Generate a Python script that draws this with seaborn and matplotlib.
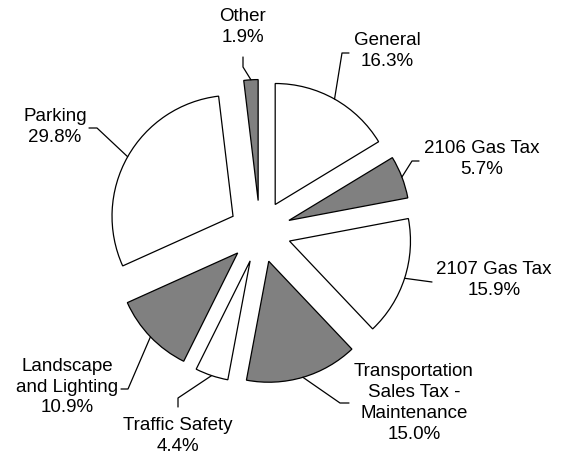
import matplotlib.pyplot as plt
import numpy as np
import seaborn as sns

labels = ['General', '2106 Gas Tax', '2107 Gas Tax',
          'Transportation\nSales Tax -\nMaintenance', 'Traffic Safety',
          'Landscape\nand Lighting', 'Parking', 'Other']
shares = [16.3, 5.7, 15.9, 15.0, 4.4, 10.9, 29.8, 1.9]
fills = ['white', '#808080', 'white', '#808080', 'white', '#808080', 'white', '#808080']

# label layout in pixels: text centre, leader elbow, leader end
text_px = [(387, 51), (482, 159), (494, 280), (414, 403), (178, 436),
           (67, 387), (55, 127), (243, 27)]
elbow_px = [(342, 53), (412, 161), (432, 282), (340, 403), (178, 398),
            (128, 389), (97, 128), (243, 67)]
end_px = [(349, 53), (419, 161), (432, 282), (349, 403), (178, 407),
          (121, 389), (89, 128), (243, 57)]

sns.set_style("white")
plt.rcParams['font.family'] = ['Liberation Sans', 'DejaVu Sans']

W, H = 574, 458
cx, cy, R = 260, 231.5, 121


def to_data(p):
    return ((p[0] - cx) / R, (cy - p[1]) / R)


fig = plt.figure(figsize=(W / 100, H / 100), dpi=100)
ax = fig.add_axes([0, 0, 1, 1])

wedges, _ = ax.pie(shares, colors=fills, startangle=90, counterclock=False,
                   explode=[0.256] * len(shares), radius=1,
                   wedgeprops=dict(edgecolor='black', linewidth=0.9))

# leader lines start at the middle of each wedge's arc
for w, lab, val, tp, ep, np_ in zip(wedges, labels, shares, text_px, elbow_px, end_px):
    mid = np.deg2rad((w.theta1 + w.theta2) / 2)
    sx = w.center[0] + w.r * np.cos(mid)
    sy = w.center[1] + w.r * np.sin(mid)
    ex, ey = to_data(ep)
    nx, ny = to_data(np_)
    ax.plot([sx, ex, nx], [sy, ey, ny], color='black', lw=0.9)
    tx, ty = to_data(tp)
    ax.text(tx, ty, f'{lab}\n{val:.1f}%', ha='center', va='center',
            fontsize=13.5, linespacing=1.3, color='black')

ax.set_xlim(-cx / R, (W - cx) / R)
ax.set_ylim(-(H - cy) / R, cy / R)
ax.set_aspect('auto')
ax.axis('off')

fig.savefig('out.png', dpi=100)
